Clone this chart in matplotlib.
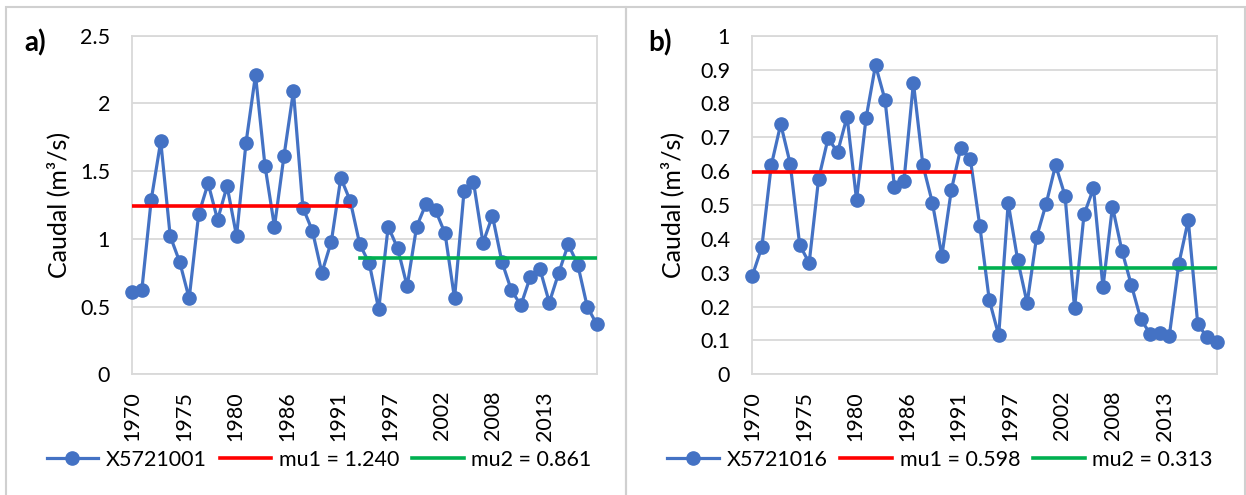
import numpy as np
import matplotlib
matplotlib.use("Agg")
import matplotlib.pyplot as plt
from matplotlib.patches import Rectangle

plt.rcParams['font.family'] = ['Lato', 'DejaVu Sans']

# years of record (one point per year)
years = list(range(1970, 2020))

# tick labels as shown on the original category axis
tick_labels = ['1970', '1975', '1980', '1986', '1991', '1997', '2002', '2008', '2013']

# station X5721001, mean flow (m3/s)
flow_a = [0.61, 0.62, 1.29, 1.72, 1.02, 0.83, 0.56, 1.18, 1.41, 1.14,
          1.39, 1.02, 1.71, 2.21, 1.54, 1.09, 1.61, 2.09, 1.23, 1.06,
          0.75, 0.98, 1.45, 1.28, 0.96, 0.82, 0.48, 1.09, 0.93, 0.65,
          1.09, 1.26, 1.21, 1.04, 0.56, 1.35, 1.42, 0.97, 1.17, 0.83,
          0.62, 0.51, 0.72, 0.78, 0.53, 0.75, 0.96, 0.81, 0.50, 0.37]

# station X5721016, mean flow (m3/s)
flow_b = [0.291, 0.375, 0.617, 0.739, 0.622, 0.382, 0.329, 0.578, 0.697, 0.656,
          0.761, 0.515, 0.756, 0.913, 0.811, 0.554, 0.571, 0.861, 0.618, 0.507,
          0.350, 0.544, 0.669, 0.637, 0.439, 0.220, 0.115, 0.506, 0.338, 0.210,
          0.406, 0.503, 0.618, 0.527, 0.195, 0.472, 0.549, 0.257, 0.495, 0.365,
          0.263, 0.162, 0.119, 0.121, 0.114, 0.326, 0.455, 0.148, 0.109, 0.094]

# change point: mu1 covers 1970-1993, mu2 covers 1994-2019
split_year = 1994
mu_a = [1.240, 0.861]
mu_b = [0.598, 0.313]

BLUE = '#4472C4'
RED = '#FF0000'
GREEN = '#00B050'
GRID = '#D9D9D9'
FS = 15.5

fig = plt.figure(figsize=(12.46, 4.95), dpi=100)

# chart area frames
for x0, x1 in [(6, 626), (626, 1245)]:
    fig.add_artist(Rectangle((x0 / 1246, -0.1), (x1 - x0) / 1246, 1.1 - 7 / 495,
                             transform=fig.transFigure, fill=False,
                             edgecolor='#D0D0D0', lw=1.5, clip_on=False))


def draw_panel(left, flow, mu, ymax, ystep, name, letter, letter_x, ylab_x, leg_x):
    ax = fig.add_axes([left / 1246, 1 - 374.3 / 495, 464.4 / 1246, 338.6 / 495])
    yrs = np.array(years)
    ax.plot(yrs, flow, color=BLUE, lw=2.3, marker='o', ms=9.5,
            clip_on=False, zorder=3, label=name)
    first = yrs < split_year
    ax.plot(yrs[first][[0, -1]], [mu[0], mu[0]], color=RED, lw=2.6,
            zorder=4, label=f'mu1 = {mu[0]:.3f}')
    ax.plot(yrs[~first][[0, -1]], [mu[1], mu[1]], color=GREEN, lw=2.6,
            zorder=4, label=f'mu2 = {mu[1]:.3f}')

    ax.set_xlim(years[0], years[-1])
    ax.set_ylim(0, ymax)
    yt = np.round(np.arange(0, ymax + ystep / 2, ystep), 2)
    ax.set_yticks(yt)
    ax.set_yticklabels([f'{v:g}' for v in yt])
    span = years[-1] - years[0]
    ax.set_xticks([years[0] + k * span / 9 for k in range(len(tick_labels))])
    ax.set_xticklabels(tick_labels, rotation=90)
    ax.tick_params(axis='y', length=0, pad=16, labelsize=FS)
    ax.tick_params(axis='x', length=0, pad=12, labelsize=FS)
    ax.grid(axis='y', color=GRID, lw=1.3)
    ax.set_axisbelow(True)
    for s in ax.spines.values():
        s.set_color(GRID)
        s.set_linewidth(1.3)
    ax.set_ylabel('Caudal (m³/s)', fontsize=18)
    ax.yaxis.set_label_coords(ylab_x, 0.5)

    fig.text(letter_x / 1246, 1 - 43 / 495, letter, fontsize=20,
             fontweight='bold', ha='left', va='center')
    fig.legend(handles=ax.get_lines(), loc='center',
               bbox_to_anchor=(leg_x / 1246, 1 - 460 / 495), ncol=3,
               frameon=False, fontsize=FS, handlelength=2.4,
               handletextpad=0.35, columnspacing=0.6, borderaxespad=0)
    return ax


draw_panel(132.3, flow_a, mu_a, 2.5, 0.5, 'X5721001', 'a)', 24, -0.134, 319)
draw_panel(752.3, flow_b, mu_b, 1.0, 0.1, 'X5721016', 'b)', 648, -0.147, 940)

fig.savefig('out.png', dpi=100)
